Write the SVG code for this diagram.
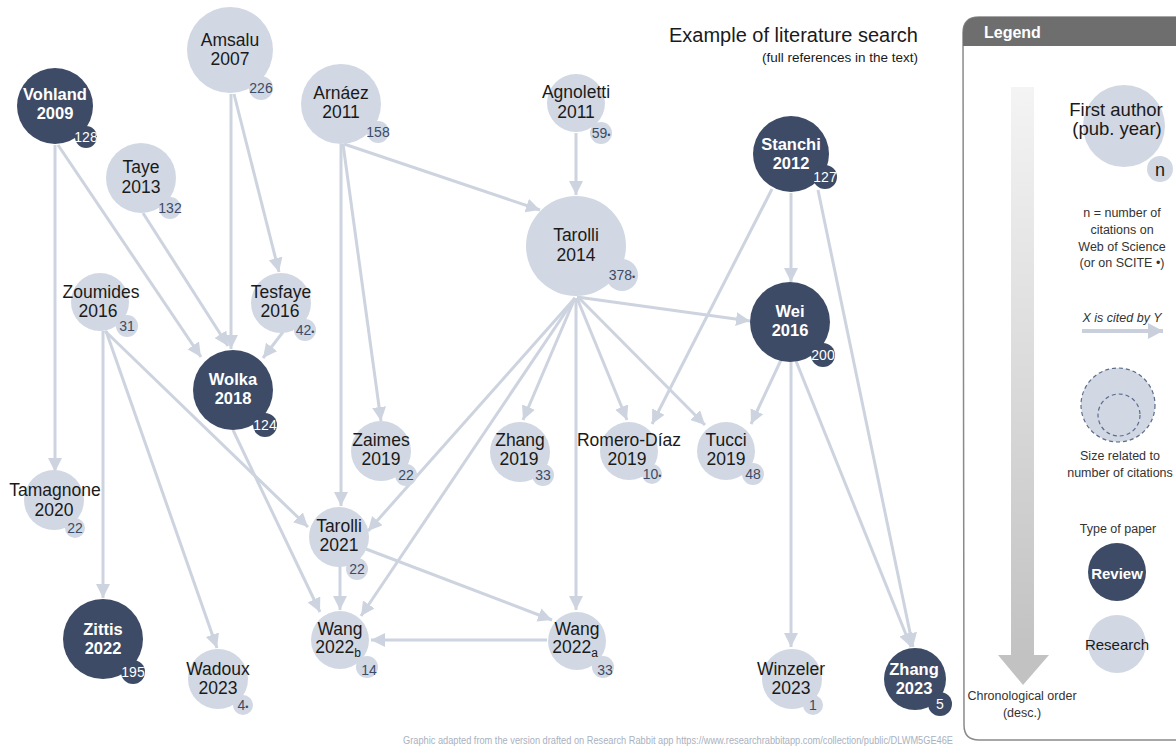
<svg xmlns="http://www.w3.org/2000/svg" width="1176" height="748" viewBox="0 0 1176 748">
<defs>
<style>
text{font-family:"Liberation Sans",Arial,sans-serif;}
.edge{stroke:#cdd4df;stroke-width:3;fill:none;marker-end:url(#arr);}
.lt{fill:#d1d8e3;}
.dk{fill:#3d4b66;}
.lbl{font-size:17.5px;fill:#1a1a1a;text-anchor:middle;}
.lblw{font-size:16.5px;font-weight:bold;fill:#ffffff;text-anchor:middle;}
.num{font-size:14px;fill:#3d4b66;text-anchor:middle;}
.numw{font-size:14px;fill:#ffffff;text-anchor:middle;}
.bul{font-size:9px;}
.sub{font-size:12px;}
.leg{font-size:12.5px;fill:#333333;text-anchor:middle;}
</style>
<marker id="arr" markerUnits="userSpaceOnUse" markerWidth="16" markerHeight="16" refX="14" refY="7" orient="auto">
<path d="M0,0 L14,7 L0,14 z" fill="#cdd4df"/>
</marker>
<marker id="arrL" markerUnits="userSpaceOnUse" markerWidth="18" markerHeight="18" refX="15" refY="8" orient="auto">
<path d="M0,0 L15,8 L0,16 z" fill="#c9d0dc"/>
</marker>
<linearGradient id="chrono" x1="0" y1="0" x2="0" y2="1">
<stop offset="0" stop-color="#f4f4f4"/>
<stop offset="1" stop-color="#c2c2c2"/>
</linearGradient>
</defs>
<rect width="1176" height="748" fill="#ffffff"/>

<!-- Title -->
<g id="title">
<text x="918" y="42" font-size="20" fill="#1a1a1a" text-anchor="end">Example of literature search</text>
<text x="918" y="62" font-size="13.5" fill="#1a1a1a" text-anchor="end">(full references in the text)</text>
</g>

<!-- Connectors -->
<g id="connectors">
<line class="edge" x1="231" y1="94" x2="231" y2="349"/>
<line class="edge" x1="234" y1="94" x2="279" y2="272"/>
<line class="edge" x1="55" y1="145" x2="55" y2="472"/>
<line class="edge" x1="58" y1="145" x2="201" y2="357"/>
<line class="edge" x1="143" y1="213" x2="228" y2="346"/>
<line class="edge" x1="283" y1="332" x2="263" y2="358"/>
<line class="edge" x1="344" y1="144" x2="540" y2="210"/>
<line class="edge" x1="343" y1="144" x2="381" y2="421"/>
<line class="edge" x1="341" y1="144" x2="341" y2="506"/>
<line class="edge" x1="576" y1="133" x2="576" y2="195"/>
<line class="edge" x1="103" y1="331" x2="103" y2="598"/>
<line class="edge" x1="106" y1="331" x2="217" y2="648"/>
<line class="edge" x1="105" y1="331" x2="308" y2="527"/>
<line class="edge" x1="233" y1="430" x2="320" y2="612"/>
<line class="edge" x1="577" y1="297" x2="750" y2="321"/>
<line class="edge" x1="575" y1="298" x2="368" y2="531"/>
<line class="edge" x1="575" y1="298" x2="361" y2="616"/>
<line class="edge" x1="575" y1="298" x2="523" y2="420"/>
<line class="edge" x1="576" y1="298" x2="576" y2="610"/>
<line class="edge" x1="577" y1="298" x2="627" y2="420"/>
<line class="edge" x1="578" y1="297" x2="705" y2="425"/>
<line class="edge" x1="791" y1="193" x2="791" y2="282"/>
<line class="edge" x1="772" y1="189" x2="652" y2="424"/>
<line class="edge" x1="818" y1="190" x2="913" y2="647"/>
<line class="edge" x1="781" y1="360" x2="751" y2="424"/>
<line class="edge" x1="791" y1="361" x2="791" y2="647"/>
<line class="edge" x1="796" y1="361" x2="911" y2="647"/>
<line class="edge" x1="340" y1="566" x2="340" y2="610"/>
<line class="edge" x1="366" y1="549" x2="552" y2="620"/>
<line class="edge" x1="547" y1="640" x2="371" y2="640"/>
</g>

<!-- Nodes -->
<g id="n-amsalu">
<circle class="lt" cx="230" cy="50" r="43"/><circle class="lt" cx="261" cy="88" r="12"/>
<text class="lbl" x="230" y="46">Amsalu</text><text class="lbl" x="230" y="65">2007</text>
<text class="num" x="261" y="93">226</text>
</g>
<g id="n-vohland">
<circle class="dk" cx="55" cy="106" r="38"/><circle class="dk" cx="86" cy="137" r="11"/>
<text class="lblw" x="55" y="100">Vohland</text><text class="lblw" x="55" y="119">2009</text>
<text class="numw" x="86" y="142">128</text>
</g>
<g id="n-arnaez">
<circle class="lt" cx="341" cy="104" r="40"/><circle class="lt" cx="378" cy="132" r="11"/>
<text class="lbl" x="341" y="99">Arnáez</text><text class="lbl" x="341" y="118">2011</text>
<text class="num" x="378" y="137">158</text>
</g>
<g id="n-taye">
<circle class="lt" cx="141" cy="178" r="35"/><circle class="lt" cx="170" cy="208" r="11"/>
<text class="lbl" x="141" y="173">Taye</text><text class="lbl" x="141" y="193">2013</text>
<text class="num" x="170" y="213">132</text>
</g>
<g id="n-agnoletti">
<circle class="lt" cx="576" cy="103" r="29"/><circle class="lt" cx="601" cy="133" r="11"/>
<text class="lbl" x="576" y="98">Agnoletti</text><text class="lbl" x="576" y="118">2011</text>
<text class="num" x="601" y="138">59<tspan class="bul">•</tspan></text>
</g>
<g id="n-tarolli2014">
<circle class="lt" cx="576" cy="246" r="50"/><circle class="lt" cx="622" cy="275" r="16"/>
<text class="lbl" x="576" y="241">Tarolli</text><text class="lbl" x="576" y="261">2014</text>
<text class="num" x="622" y="280">378<tspan class="bul">•</tspan></text>
</g>
<g id="n-stanchi">
<circle class="dk" cx="791" cy="154" r="38"/><circle class="dk" cx="825" cy="177" r="12"/>
<text class="lblw" x="791" y="150">Stanchi</text><text class="lblw" x="791" y="169">2012</text>
<text class="numw" x="825" y="182">127</text>
</g>
<g id="n-zoumides">
<circle class="lt" cx="100" cy="302" r="29"/><circle class="lt" cx="127" cy="326" r="11"/>
<text class="lbl" x="101" y="298">Zoumides</text><text class="lbl" x="98" y="317">2016</text>
<text class="num" x="127" y="331">31</text>
</g>
<g id="n-tesfaye">
<circle class="lt" cx="281" cy="303" r="30"/><circle class="lt" cx="305" cy="330" r="11"/>
<text class="lbl" x="281" y="298">Tesfaye</text><text class="lbl" x="280" y="317">2016</text>
<text class="num" x="305" y="335">42<tspan class="bul">•</tspan></text>
</g>
<g id="n-wei">
<circle class="dk" cx="790" cy="322" r="40"/><circle class="dk" cx="823" cy="355" r="12"/>
<text class="lblw" x="790" y="317">Wei</text><text class="lblw" x="790" y="336">2016</text>
<text class="numw" x="823" y="360">200</text>
</g>
<g id="n-wolka">
<circle class="dk" cx="233" cy="390" r="40"/><circle class="dk" cx="265" cy="425" r="12"/>
<text class="lblw" x="233" y="385">Wolka</text><text class="lblw" x="233" y="404">2018</text>
<text class="numw" x="265" y="430">124</text>
</g>
<g id="n-zaimes">
<circle class="lt" cx="381" cy="451" r="30"/><circle class="lt" cx="406" cy="475" r="11"/>
<text class="lbl" x="381" y="446">Zaimes</text><text class="lbl" x="381" y="465">2019</text>
<text class="num" x="406" y="480">22</text>
</g>
<g id="n-zhang2019">
<circle class="lt" cx="520" cy="452" r="30"/><circle class="lt" cx="543" cy="475" r="11"/>
<text class="lbl" x="520" y="446">Zhang</text><text class="lbl" x="519" y="465">2019</text>
<text class="num" x="543" y="480">33</text>
</g>
<g id="n-romero">
<circle class="lt" cx="629" cy="451" r="29"/><circle class="lt" cx="652" cy="474" r="10"/>
<text class="lbl" x="629" y="446">Romero-Díaz</text><text class="lbl" x="627" y="465">2019</text>
<text class="num" x="652" y="479">10<tspan class="bul">•</tspan></text>
</g>
<g id="n-tucci">
<circle class="lt" cx="726" cy="451" r="29"/><circle class="lt" cx="753" cy="474" r="11"/>
<text class="lbl" x="726" y="446">Tucci</text><text class="lbl" x="726" y="465">2019</text>
<text class="num" x="753" y="479">48</text>
</g>
<g id="n-tamagnone">
<circle class="lt" cx="54" cy="500" r="30"/><circle class="lt" cx="75" cy="528" r="10"/>
<text class="lbl" x="55" y="496">Tamagnone</text><text class="lbl" x="54" y="516">2020</text>
<text class="num" x="75" y="533">22</text>
</g>
<g id="n-tarolli2021">
<circle class="lt" cx="339" cy="537" r="30"/><circle class="lt" cx="357" cy="569" r="11"/>
<text class="lbl" x="339" y="532">Tarolli</text><text class="lbl" x="339" y="551">2021</text>
<text class="num" x="357" y="574">22</text>
</g>
<g id="n-wang2022b">
<circle class="lt" cx="340" cy="640" r="29"/><circle class="lt" cx="367" cy="667" r="11"/>
<text class="lbl" x="340" y="635">Wang</text><text class="lbl" x="338" y="653">2022<tspan class="sub" dy="4">b</tspan></text>
<text class="num" x="369" y="675">14</text>
</g>
<g id="n-wang2022a">
<circle class="lt" cx="577" cy="641" r="29"/><circle class="lt" cx="603" cy="667" r="11"/>
<text class="lbl" x="577" y="635">Wang</text><text class="lbl" x="575" y="653">2022<tspan class="sub" dy="4">a</tspan></text>
<text class="num" x="605" y="675">33</text>
</g>
<g id="n-zittis">
<circle class="dk" cx="103" cy="639" r="40"/><circle class="dk" cx="133" cy="672" r="12"/>
<text class="lblw" x="103" y="635">Zittis</text><text class="lblw" x="103" y="654">2022</text>
<text class="numw" x="133" y="677">195</text>
</g>
<g id="n-wadoux">
<circle class="lt" cx="218" cy="679" r="30"/><circle class="lt" cx="243" cy="705" r="10"/>
<text class="lbl" x="218" y="675">Wadoux</text><text class="lbl" x="218" y="694">2023</text>
<text class="num" x="243" y="710">4<tspan class="bul">•</tspan></text>
</g>
<g id="n-winzeler">
<circle class="lt" cx="792" cy="679" r="30"/><circle class="lt" cx="813" cy="705" r="10"/>
<text class="lbl" x="791" y="675">Winzeler</text><text class="lbl" x="791" y="694">2023</text>
<text class="num" x="813" y="710">1</text>
</g>
<g id="n-zhang2023">
<circle class="dk" cx="915" cy="679" r="31"/><circle class="dk" cx="940" cy="704" r="12"/>
<text class="lblw" x="914" y="675">Zhang</text><text class="lblw" x="914" y="694">2023</text>
<text class="numw" x="940" y="709">5</text>
</g>

<!-- Footer -->
<text x="403" y="744" font-size="10" fill="#a9b1c0" textLength="550" lengthAdjust="spacingAndGlyphs">Graphic adapted from the version drafted on Research Rabbit app https://www.researchrabbitapp.com/collection/public/DLWM5GE46E</text>

<!-- Legend -->
<g id="legend">
<path d="M963,33 Q963,17 979,17 L1190,17 L1190,740 L979,740 Q964,740 964,725 Z" fill="#ffffff" stroke="#8a8a8a" stroke-width="1.5"/>
<path d="M963,33 Q963,17 979,17 L1190,17 L1190,46 L963,46 Z" fill="#6e6e6e"/>
<text x="984" y="38" font-size="16" font-weight="bold" fill="#ffffff">Legend</text>
<rect x="1011" y="87" width="23" height="569" fill="url(#chrono)"/>
<path d="M998,655 L1049,655 L1023,685 Z" fill="#c2c2c2"/>
<text class="leg" x="1022" y="700">Chronological order</text>
<text class="leg" x="1022" y="717">(desc.)</text>
<circle class="lt" cx="1124" cy="126" r="41"/>
<circle class="lt" cx="1160" cy="169" r="13"/>
<text x="1116" y="116" font-size="18.5" fill="#1a1a1a" text-anchor="middle">First author</text>
<text x="1117" y="135" font-size="18.5" fill="#1a1a1a" text-anchor="middle">(pub. year)</text>
<text x="1160" y="176" font-size="18" fill="#1a1a1a" text-anchor="middle">n</text>
<text class="leg" x="1122" y="217">n = number of</text>
<text class="leg" x="1122" y="234">citations on</text>
<text class="leg" x="1122" y="251">Web of Science</text>
<text class="leg" x="1122" y="267">(or on SCITE •)</text>
<text class="leg" x="1122" y="322" font-style="italic">X is cited by Y</text>
<line x1="1082" y1="331" x2="1163" y2="331" stroke="#c9d0dc" stroke-width="4" marker-end="url(#arrL)"/>
<circle cx="1118" cy="405" r="37" fill="#d1d8e3" stroke="#5a6b8c" stroke-width="1.2" stroke-dasharray="4,3"/>
<circle cx="1119" cy="415" r="21" fill="none" stroke="#5a6b8c" stroke-width="1.2" stroke-dasharray="4,3"/>
<text class="leg" x="1120" y="460">Size related to</text>
<text class="leg" x="1120" y="477">number of citations</text>
<text class="leg" x="1118" y="533">Type of paper</text>
<circle class="dk" cx="1117" cy="572" r="29"/>
<text x="1117" y="579" font-size="15" font-weight="bold" fill="#ffffff" text-anchor="middle">Review</text>
<circle class="lt" cx="1117" cy="644" r="29"/>
<text x="1117" y="650" font-size="15" fill="#1a1a1a" text-anchor="middle">Research</text>
</g>
</svg>
